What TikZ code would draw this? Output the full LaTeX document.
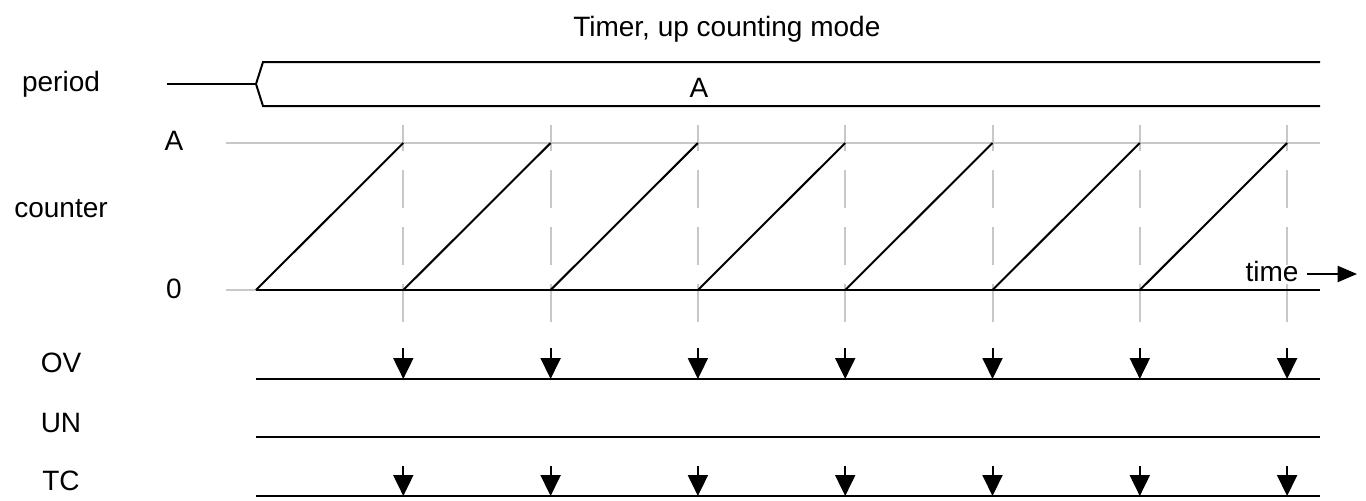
\documentclass[tikz,border=0pt]{standalone}
\usepackage{fontspec}
\setmainfont{Liberation Sans}
\usetikzlibrary{arrows.meta}
\definecolor{gridgray}{RGB}{200,200,200}
\begin{document}
\begin{tikzpicture}[x=0.75pt,y=-0.75pt,
  lbl/.style={font=\fontsize{21}{25}\selectfont, anchor=base, inner sep=0pt},
  sig/.style={line width=1.5pt, black},
  guide/.style={line width=1.5pt, gridgray},
  tickline/.style={line width=1.5pt, gridgray, dash pattern=on 28.5pt off 14.25pt},
  evt/.style={line width=1.5pt, -{Triangle[length=15.75pt,width=15pt]}},
  timearrow/.style={line width=1.5pt, -{Triangle[length=14.5pt,width=12pt]}}
]
\useasboundingbox (0,0) rectangle (1366,500);

% labels
\node[lbl, anchor=base west] (title) at (573,36) {Timer, up counting mode};
\node[lbl] (period) at (61,91) {period};
\node[lbl] (counter) at (61,217) {counter};
\node[lbl] (lA) at (174,150) {A};
\node[lbl] (l0) at (174,298) {0};
\node[lbl] (ov) at (61,372) {OV};
\node[lbl] (un) at (61,432) {UN};
\node[lbl] (tc) at (61,490) {TC};
\node[lbl] (busA) at (699,97) {A};
\node[lbl] (time) at (1272,281) {time};

% guide lines
\coordinate (gA0) at (226,143);
\coordinate (gA1) at (1320,143);
\coordinate (g00) at (226,290);
\coordinate (g01) at (256,290);
\draw[guide] (gA0) -- (gA1);
\draw[guide] (g00) -- (g01);

% dashed event ticks
\foreach \i in {1,...,7}{
  \pgfmathsetmacro{\xx}{256+\i*147.3}
  \coordinate (tb\i) at (\xx,322);
  \coordinate (tt\i) at (\xx,125);
  \draw[tickline] (tb\i) -- (tt\i);
}

% period bus
\coordinate (p0) at (167,84);
\coordinate (pv) at (256,84);
\coordinate (pt) at (263,62);
\coordinate (pb) at (263,106);
\coordinate (pte) at (1320,62);
\coordinate (pbe) at (1320,106);
\draw[sig] (p0) -- (pv);
\draw[sig, line join=miter] (pte) -- (pt) -- (pv) -- (pb) -- (pbe);

% counter baseline and sawtooth
\coordinate (c0) at (256,290);
\coordinate (c1) at (1320,290);
\draw[sig] (c0) -- (c1);
\foreach \i in {1,...,7}{
  \pgfmathsetmacro{\xa}{256+(\i-1)*147.3}
  \pgfmathsetmacro{\xb}{256+\i*147.3}
  \coordinate (rs\i) at (\xa,290);
  \coordinate (re\i) at (\xb,143);
  \draw[sig] (rs\i) -- (re\i);
}

% time arrow
\coordinate (ta0) at (1307,274);
\coordinate (ta1) at (1357,274);
\draw[timearrow] (ta0) -- (ta1);

% OV, UN, TC lines
\coordinate (ov0) at (256,379); \coordinate (ov1) at (1320,379);
\coordinate (un0) at (256,437); \coordinate (un1) at (1320,437);
\coordinate (tc0) at (256,496); \coordinate (tc1) at (1320,496);
\draw[sig] (ov0) -- (ov1);
\draw[sig] (un0) -- (un1);
\draw[sig] (tc0) -- (tc1);
\foreach \i in {1,...,7}{
  \pgfmathsetmacro{\xx}{256+\i*147.3}
  \coordinate (oa\i) at (\xx,348);
  \coordinate (ob\i) at (\xx,379);
  \coordinate (ca\i) at (\xx,466);
  \coordinate (cb\i) at (\xx,496);
  \draw[evt] (oa\i) -- (ob\i);
  \draw[evt] (ca\i) -- (cb\i);
}
\end{tikzpicture}
\end{document}
